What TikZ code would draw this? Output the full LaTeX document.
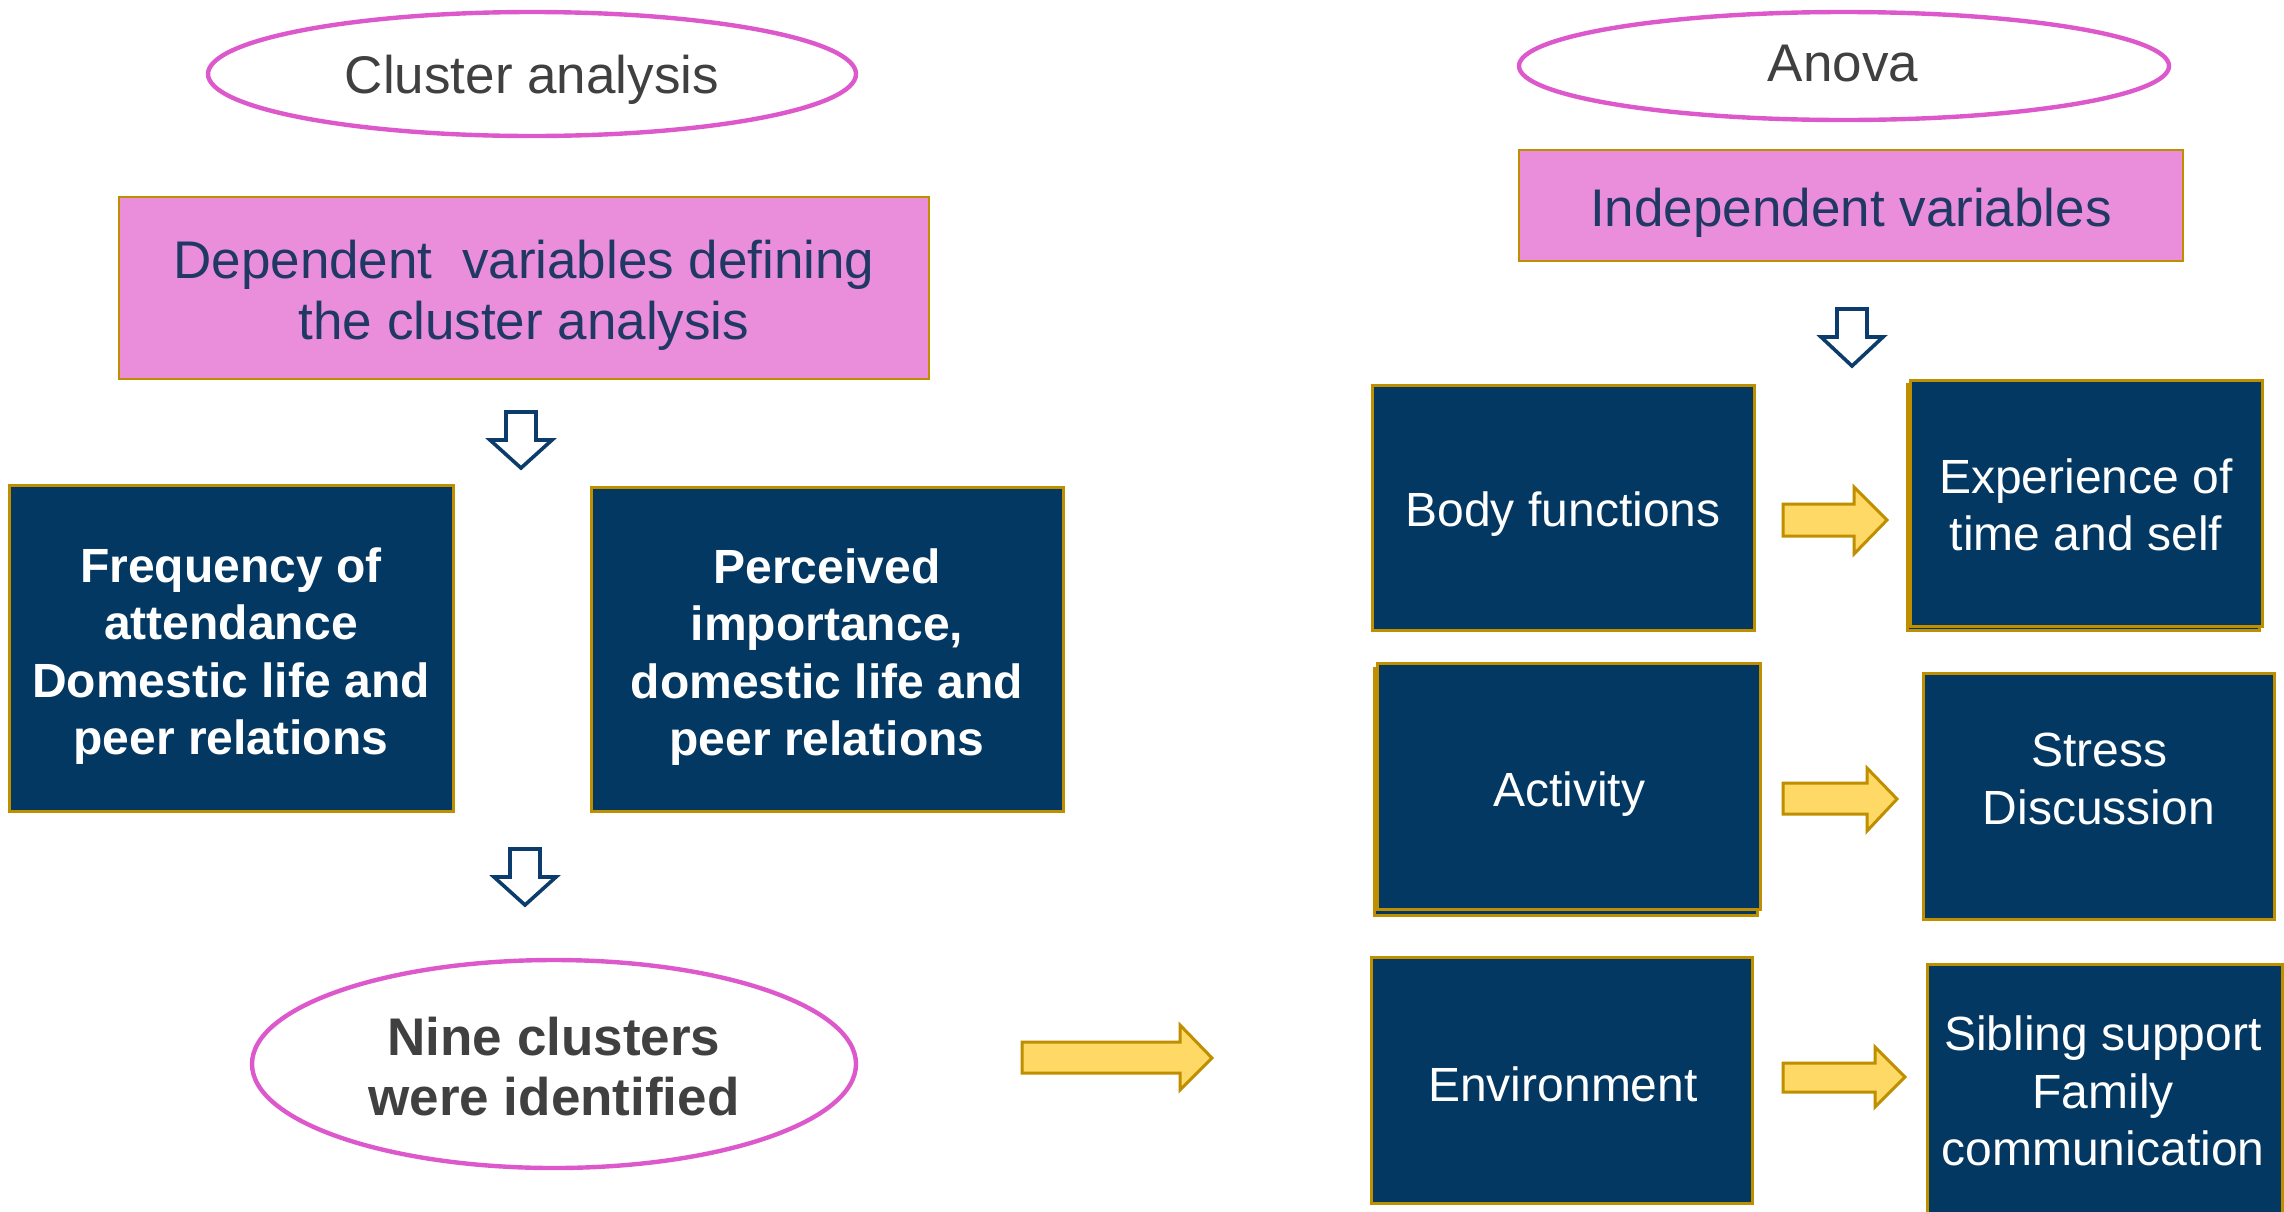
\documentclass[tikz,border=0pt]{standalone}
\usepackage{fontspec}
\setmainfont{Liberation Sans}
\usepackage{tikz}

\definecolor{navyfill}{RGB}{3,56,99}
\definecolor{goldline}{RGB}{191,143,0}
\definecolor{pinkfill}{RGB}{234,142,219}
\definecolor{ovalpink}{RGB}{221,88,203}
\definecolor{navytext}{RGB}{31,56,100}
\definecolor{greytext}{RGB}{64,64,64}
\definecolor{arrowyellow}{RGB}{255,217,102}
\definecolor{arrowline}{RGB}{11,60,107}

\tikzset{
  navybox/.style={draw=goldline,line width=1.5pt,fill=navyfill},
  pinkbox/.style={draw=goldline,line width=1.2pt,fill=pinkfill},
  oval/.style={draw=ovalpink,line width=2.2pt,fill=white},
  hollowarrow/.style={draw=arrowline,line width=1.8pt,fill=white,line join=miter},
  yellowarrow/.style={draw=goldline,line width=1.5pt,fill=arrowyellow,line join=miter},
  boxtext/.style={inner sep=0.75pt,align=center,text=white,font=\fontsize{24}{28.7}\selectfont},
  boldtext/.style={inner sep=0.75pt,align=center,text=white,font=\fontsize{24}{28.7}\selectfont\bfseries},
}

\begin{document}
\begin{tikzpicture}[x=0.5pt,y=0.5pt,yscale=-1]
\clip (0,0) rectangle (2284,1211);

%Ellipses
\draw [oval] (532,74) ellipse (324 and 62);
\draw [oval] (1844,66) ellipse (325 and 54);
\draw [oval] (554,1064) ellipse (302 and 104);

%Shape: Rectangle (pink)
\draw [pinkbox] (119,197) -- (929,197) -- (929,379) -- (119,379) -- cycle ;
\draw [pinkbox] (1519,150) -- (2183,150) -- (2183,261) -- (1519,261) -- cycle ;

%Flowchart: Process (left column)
\draw [navybox] (9,485) -- (453,485) -- (453,811) -- (9,811) -- cycle ;
\draw [navybox] (591,487) -- (1063,487) -- (1063,811) -- (591,811) -- cycle ;

%Flowchart: Process (right column)
\draw [navybox] (1372,385) -- (1754,385) -- (1754,630) -- (1372,630) -- cycle ;
\draw [navybox] (1907,384) -- (2259,384) -- (2259,630) -- (1907,630) -- cycle ;
\draw [navybox] (1910,380) -- (2262,380) -- (2262,626) -- (1910,626) -- cycle ;
\draw [navybox] (1374,668) -- (1757,668) -- (1757,915) -- (1374,915) -- cycle ;
\draw [navybox] (1377,663) -- (1760,663) -- (1760,909) -- (1377,909) -- cycle ;
\draw [navybox] (1923,673) -- (2274,673) -- (2274,919) -- (1923,919) -- cycle ;
\draw [navybox] (1371,957) -- (1752,957) -- (1752,1203) -- (1371,1203) -- cycle ;
\draw [navybox] (1927,964) -- (2282,964) -- (2282,1230) -- (1927,1230) -- cycle ;

%Down Arrow (hollow)
\draw [hollowarrow] (506,412) -- (536,412) -- (536,440) -- (552,440) -- (521,468) -- (490,440) -- (506,440) -- cycle ;
\draw [hollowarrow] (510,849) -- (540,849) -- (540,877) -- (556,877) -- (525,905) -- (494,877) -- (510,877) -- cycle ;
\draw [hollowarrow] (1837,309) -- (1867,309) -- (1867,337) -- (1883,337) -- (1852,366) -- (1821,337) -- (1837,337) -- cycle ;

%Right Arrow (yellow)
\draw [yellowarrow] (1022,1042) -- (1180,1042) -- (1180,1025) -- (1212,1058) -- (1180,1090) -- (1180,1073) -- (1022,1073) -- cycle ;
\draw [yellowarrow] (1783,504) -- (1854,504) -- (1854,487) -- (1887,520) -- (1854,554) -- (1854,536) -- (1783,536) -- cycle ;
\draw [yellowarrow] (1783,783) -- (1867,783) -- (1867,768) -- (1897,799) -- (1867,831) -- (1867,814) -- (1783,814) -- cycle ;
\draw [yellowarrow] (1783,1063) -- (1875,1063) -- (1875,1047) -- (1905,1077) -- (1875,1107) -- (1875,1092) -- (1783,1092) -- cycle ;

% Text Node
\draw (532,80) node [inner sep=0.75pt,text=greytext,font=\fontsize{26.5}{31}\selectfont] (clusterLbl) {Cluster analysis};
% Text Node
\draw (1843,64) node [inner sep=0.75pt,text=greytext,font=\fontsize{26.5}{31}\selectfont] (anovaLbl) {Anova};
% Text Node
\draw (524,295) node [inner sep=0.75pt,align=center,text=navytext,font=\fontsize{26.5}{30.5}\selectfont] (depLbl) {Dependent\ \ variables defining\\the cluster analysis};
% Text Node
\draw (1851,213) node [inner sep=0.75pt,text=navytext,font=\fontsize{26.5}{31}\selectfont] (indepLbl) {Independent variables};
% Text Node
\draw (231,656) node [boldtext] (freqLbl) {Frequency of\\attendance\\Domestic life and\\peer relations};
% Text Node
\draw (827,657) node [boldtext] (percLbl) {Perceived\\importance,\\domestic life and\\peer relations};
% Text Node
\draw (554,1067) node [inner sep=0.75pt,align=center,text=greytext,font=\fontsize{26.5}{30}\selectfont\bfseries] (nineLbl) {Nine clusters\\were identified};
% Text Node
\draw (1563,514) node [boxtext] (bodyLbl) {Body functions};
% Text Node
\draw (2086,505) node [boxtext] (expLbl) {Experience of\\time and self};
% Text Node
\draw (1569,794) node [boxtext] (actLbl) {Activity};
% Text Node
\draw (2099,779) node [boxtext] (stressLbl) {Stress\\Discussion};
% Text Node
\draw (1563,1084) node [boxtext] (envLbl) {Environment};
% Text Node
\draw (2103,1091) node [boxtext] (sibLbl) {Sibling support\\Family\\communication};
\end{tikzpicture}
\end{document}
